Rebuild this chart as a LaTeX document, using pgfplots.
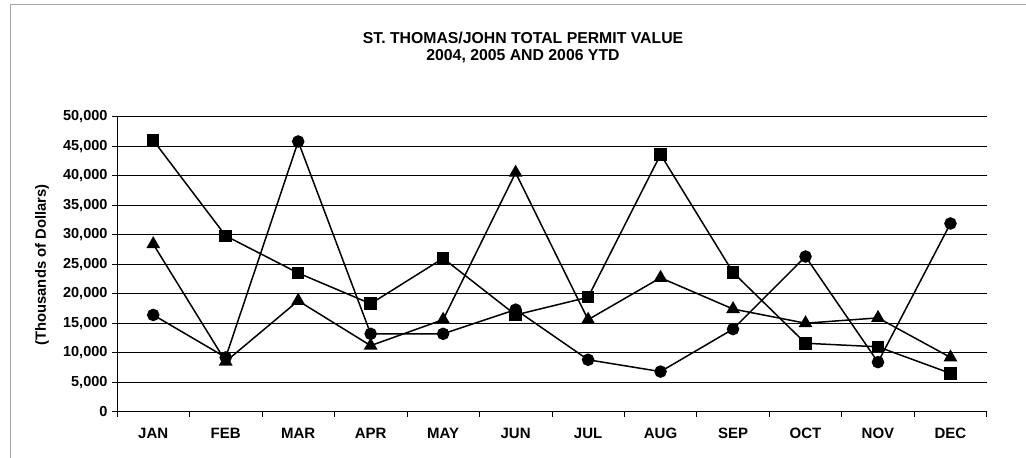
\documentclass[border=0pt]{standalone}
\usepackage{pgfplots}
\pgfplotsset{compat=1.18}
\usepackage{fontspec}
\setmainfont{Liberation Sans}
\begin{document}
\begin{tikzpicture}[x=1pt,y=1pt]
\useasboundingbox (0,0) rectangle (1026,458);
\draw[gray!70,line width=1pt] (10,0) -- (10,453) -- (1026,453);
\node[font=\fontsize{15.8}{15.8}\selectfont\bfseries] at (523,420) {ST. THOMAS/JOHN TOTAL PERMIT VALUE};
\node[font=\fontsize{15.8}{15.8}\selectfont\bfseries] at (523,402) {2004, 2005 AND 2006 YTD};
\node[rotate=90,font=\fontsize{14.8}{14.8}\selectfont\bfseries] at (42,193) {(Thousands of Dollars)};
\begin{axis}[
  at={(117pt,46.3pt)}, anchor=south west,
  scale only axis, width=869.7pt, height=295pt,
  xmin=-0.5, xmax=11.5, ymin=0, ymax=50000,
  scaled y ticks=false,
  axis x line=bottom, axis y line=left,
  axis line style={-, line width=0.9pt},
  xtick={-0.5,0.5,...,11.5},
  x tick label as interval,
  xticklabels={JAN,FEB,MAR,APR,MAY,JUN,JUL,AUG,SEP,OCT,NOV,DEC},
  ytick={0,5000,...,50000},
  yticklabels={0,{5,000},{10,000},{15,000},{20,000},{25,000},{30,000},{35,000},{40,000},{45,000},{50,000}},
  tick align=outside, major tick length=5pt,
  tick style={black, line width=0.7pt},
  ymajorgrids, grid style={black, line width=0.8pt},
  x tick label style={font=\fontsize{15}{15}\selectfont\bfseries, yshift=-8pt},
  y tick label style={font=\fontsize{14.5}{14.5}\selectfont\bfseries, xshift=-1pt},
  clip=false,
]
\addplot[black, line width=1.5pt, mark=square*, mark size=5.5pt] coordinates {
(0,46000) (1,29800) (2,23500) (3,18300) (4,26000) (5,16400) (6,19400) (7,43600) (8,23600) (9,11600) (10,11000) (11,6500)};
\addplot[black, line width=1.5pt, mark=*, mark size=5.5pt] coordinates {
(0,16400) (1,9200) (2,45800) (3,13200) (4,13200) (5,17300) (6,8800) (7,6800) (8,14000) (9,26300) (10,8400) (11,31900)};
\addplot[black, line width=1.5pt, mark=triangle*, mark size=6.5pt] coordinates {
(0,28400) (1,8500) (2,18800) (3,11200) (4,15600) (5,40500) (6,15600) (7,22700) (8,17400) (9,15000) (10,15900) (11,9200)};
\end{axis}
\end{tikzpicture}
\end{document}
